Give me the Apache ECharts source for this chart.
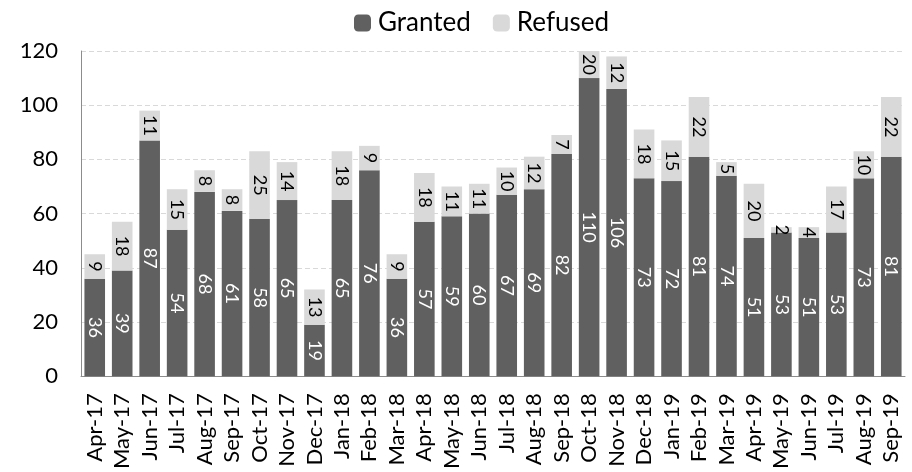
<!DOCTYPE html>
<html>
<head>
<meta charset="utf-8">
<script src="https://cdn.jsdelivr.net/npm/echarts@6/dist/echarts.min.js"></script>
<style>html,body{margin:0;padding:0;background:#fff}#chart{width:912px;height:472px}</style>
</head>
<body>
<div id="chart"></div>
<script>
// Monthly decisions, stacked: granted at the base, refused on top
const months = ['Apr-17','May-17','Jun-17','Jul-17','Aug-17','Sep-17','Oct-17','Nov-17','Dec-17','Jan-18','Feb-18','Mar-18','Apr-18','May-18','Jun-18','Jul-18','Aug-18','Sep-18','Oct-18','Nov-18','Dec-18','Jan-19','Feb-19','Mar-19','Apr-19','May-19','Jun-19','Jul-19','Aug-19','Sep-19'];
const granted = [36,39,87,54,68,61,58,65,19,65,76,36,57,59,60,67,69,82,110,106,73,72,81,74,51,53,51,53,73,81];
const refused = [9,18,11,15,8,8,25,14,13,18,9,9,18,11,11,10,12,7,20,12,18,15,22,5,20,2,4,17,10,22];
const yTicks = [0,20,40,60,80,100,120];

const FONT = 'Lato, "Noto Sans", sans-serif';
const chart = echarts.init(document.getElementById('chart'), null, {renderer: 'canvas'});

chart.setOption({
  animation: false,
  textStyle: {fontFamily: FONT},
  legend: {
    top: 5, left: 349,
    itemWidth: 17, itemHeight: 17, itemGap: 22,
    textStyle: {fontSize: 26, color: '#000', fontFamily: FONT, padding: [0, 0, 0, 2]},
    data: ['Granted', 'Refused']
  },
  grid: {left: 81, right: 7, top: 51, bottom: 95},
  xAxis: {
    type: 'category',
    data: months,
    axisLine: {lineStyle: {color: '#8c8c8c', width: 1}},
    axisTick: {show: false},
    axisLabel: {rotate: 90, interval: 0, fontSize: 22, color: '#000', margin: 17, fontFamily: FONT}
  },
  yAxis: {
    type: 'value',
    min: yTicks[0], max: yTicks[yTicks.length - 1], interval: 20,
    axisLine: {show: true, lineStyle: {color: '#8c8c8c', width: 1}},
    axisTick: {show: false},
    axisLabel: {fontSize: 22, color: '#000', margin: 23, fontFamily: FONT},
    splitLine: {lineStyle: {color: '#d9d9d9', type: [5, 3], width: 1}}
  },
  series: [
    {
      name: 'Granted', type: 'bar', stack: 'total',
      data: granted, barCategoryGap: '25%',
      itemStyle: {color: '#606060'},
      label: {show: true, position: 'inside', rotate: -90, color: '#fff', fontSize: 18, fontFamily: FONT}
    },
    {
      name: 'Refused', type: 'bar', stack: 'total',
      data: refused, barCategoryGap: '25%',
      itemStyle: {color: '#d9d9d9'},
      label: {show: true, position: 'inside', rotate: -90, color: '#000', fontSize: 18, fontFamily: FONT}
    }
  ]
});
</script>
</body>
</html>
